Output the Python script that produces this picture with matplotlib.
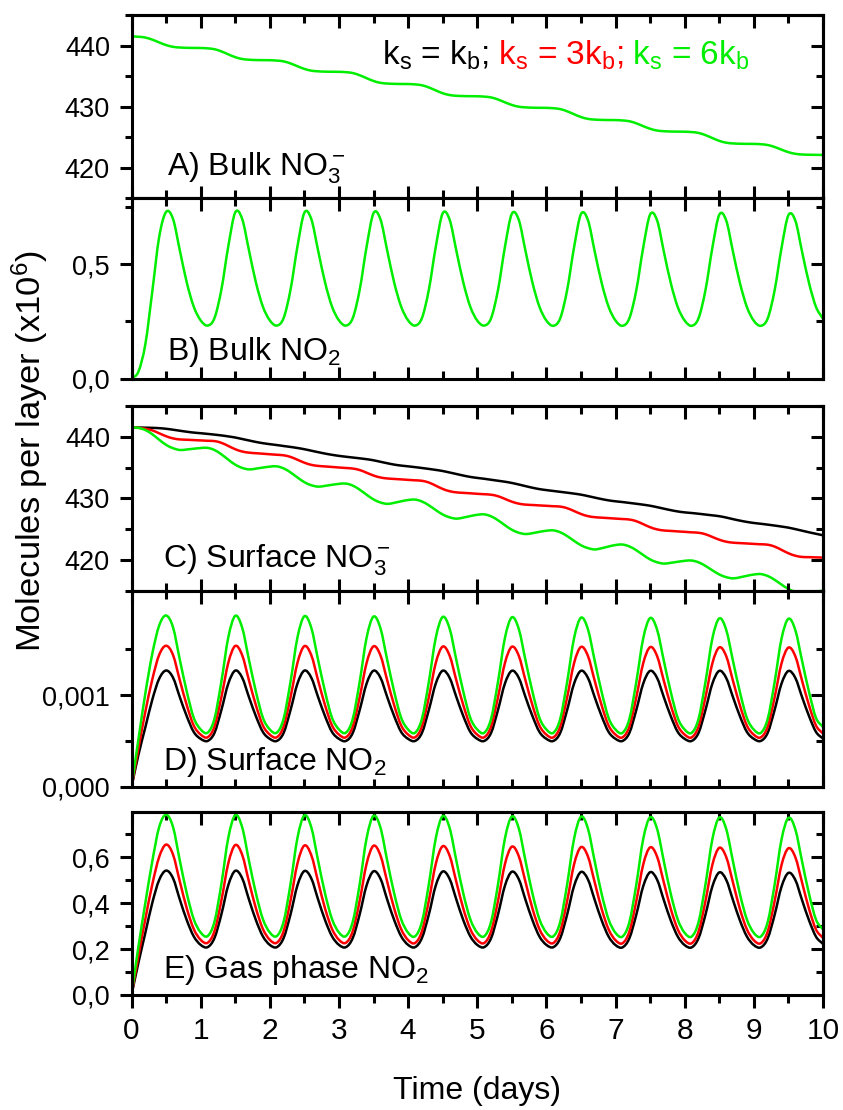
import numpy as np
import matplotlib
matplotlib.use('Agg')
import matplotlib.pyplot as plt
from matplotlib.ticker import FixedLocator, FixedFormatter
from matplotlib.path import Path
from matplotlib.patches import PathPatch

plt.rcParams['font.family'] = ['Liberation Sans', 'DejaVu Sans']
plt.rcParams['mathtext.fontset'] = 'custom'
plt.rcParams['mathtext.rm'] = 'Liberation Sans'
plt.rcParams['mathtext.it'] = 'Liberation Sans:italic'
plt.rcParams['mathtext.bf'] = 'Liberation Sans:bold'

time_days = np.round(np.arange(101) * 0.1, 1)

# A) Bulk NO3-  (k_s = 6k_b, green)
bulk_no3_green = [
    441.5, 441.44, 441.31, 440.97, 440.51, 440.08, 439.79, 439.68, 439.63, 439.61,
    439.6, 439.54, 439.4, 439.04, 438.56, 438.1, 437.8, 437.68, 437.63, 437.61,
    437.6, 437.54, 437.41, 437.07, 436.61, 436.18, 435.89, 435.78, 435.73, 435.71,
    435.7, 435.64, 435.5, 435.14, 434.66, 434.2, 433.9, 433.78, 433.73, 433.71,
    433.7, 433.64, 433.5, 433.14, 432.66, 432.2, 431.9, 431.78, 431.73, 431.71,
    431.7, 431.64, 431.51, 431.17, 430.71, 430.28, 429.99, 429.88, 429.83, 429.81,
    429.8, 429.74, 429.6, 429.24, 428.76, 428.3, 428.0, 427.88, 427.83, 427.81,
    427.8, 427.74, 427.61, 427.27, 426.81, 426.38, 426.09, 425.98, 425.93, 425.91,
    425.9, 425.84, 425.7, 425.34, 424.86, 424.4, 424.1, 423.98, 423.93, 423.91,
    423.9, 423.85, 423.72, 423.4, 422.96, 422.55, 422.28, 422.17, 422.13, 422.11,
    422.1]

# B) Bulk NO2 (green)
bulk_no2_green = [
    0.000, 0.030, 0.150, 0.380, 0.620, 0.730, 0.700, 0.560, 0.420, 0.315,
    0.255, 0.232, 0.265, 0.390, 0.580, 0.728, 0.700, 0.560, 0.420, 0.315,
    0.255, 0.232, 0.265, 0.390, 0.579, 0.727, 0.699, 0.559, 0.420, 0.315,
    0.255, 0.232, 0.265, 0.389, 0.578, 0.725, 0.698, 0.558, 0.419, 0.315,
    0.255, 0.232, 0.265, 0.389, 0.577, 0.724, 0.697, 0.557, 0.419, 0.314,
    0.254, 0.232, 0.264, 0.388, 0.576, 0.722, 0.696, 0.556, 0.418, 0.314,
    0.254, 0.231, 0.264, 0.388, 0.575, 0.721, 0.695, 0.555, 0.418, 0.314,
    0.254, 0.231, 0.264, 0.387, 0.574, 0.719, 0.694, 0.554, 0.417, 0.313,
    0.254, 0.231, 0.264, 0.387, 0.573, 0.718, 0.693, 0.553, 0.417, 0.313,
    0.253, 0.231, 0.263, 0.386, 0.572, 0.716, 0.692, 0.552, 0.416, 0.313,
    0.262]

# C) Surface NO3-
surf_no3_black = [
    441.5, 441.5, 441.48, 441.45, 441.4, 441.3, 441.15, 440.98, 440.82, 440.68,
    440.58, 440.47, 440.35, 440.22, 440.06, 439.88, 439.64, 439.4, 439.16, 438.96,
    438.8, 438.66, 438.5, 438.35, 438.18, 437.98, 437.74, 437.5, 437.27, 437.07,
    436.9, 436.76, 436.63, 436.5, 436.36, 436.18, 435.94, 435.7, 435.48, 435.32,
    435.2, 435.07, 434.93, 434.78, 434.62, 434.44, 434.2, 433.95, 433.7, 433.48,
    433.32, 433.18, 433.02, 432.86, 432.7, 432.5, 432.25, 431.98, 431.72, 431.5,
    431.34, 431.2, 431.06, 430.92, 430.77, 430.6, 430.37, 430.12, 429.88, 429.67,
    429.52, 429.4, 429.26, 429.12, 428.97, 428.8, 428.57, 428.32, 428.08, 427.87,
    427.72, 427.62, 427.5, 427.37, 427.24, 427.1, 426.88, 426.62, 426.38, 426.17,
    426.0, 425.87, 425.73, 425.58, 425.42, 425.24, 425.0, 424.74, 424.48, 424.24,
    424.0]
surf_no3_red = [
    441.5, 441.45, 441.3, 441.04, 440.57, 440.09, 439.74, 439.57, 439.52, 439.46,
    439.41, 439.35, 439.30, 439.02, 438.51, 437.98, 437.61, 437.42, 437.33, 437.25,
    437.16, 437.08, 436.99, 436.73, 436.27, 435.79, 435.44, 435.27, 435.18, 435.1,
    435.01, 434.93, 434.84, 434.6, 434.16, 433.71, 433.39, 433.23, 433.15, 433.08,
    433.0, 432.93, 432.85, 432.57, 432.06, 431.53, 431.16, 430.97, 430.89, 430.82,
    430.74, 430.67, 430.59, 430.35, 429.91, 429.46, 429.14, 428.98, 428.92, 428.85,
    428.79, 428.72, 428.66, 428.4, 427.94, 427.46, 427.11, 426.94, 426.86, 426.79,
    426.71, 426.64, 426.56, 426.29, 425.81, 425.31, 424.96, 424.78, 424.71, 424.63,
    424.56, 424.48, 424.41, 424.17, 423.73, 423.28, 422.96, 422.8, 422.73, 422.67,
    422.6, 422.54, 422.47, 422.17, 421.63, 421.08, 420.68, 420.48, 420.45, 420.41,
    420.38]
surf_no3_green = [
    441.5, 441.45, 441.09, 440.42, 439.52, 438.69, 438.15, 437.85, 437.94, 438.06,
    438.17, 438.2, 437.85, 437.15, 436.28, 435.47, 434.95, 434.7, 434.83, 435.0,
    435.15, 435.2, 434.87, 434.21, 433.39, 432.63, 432.13, 431.9, 432.03, 432.2,
    432.35, 432.4, 432.07, 431.41, 430.59, 429.83, 429.33, 429.1, 429.28, 429.52,
    429.73, 429.8, 429.49, 428.87, 428.1, 427.38, 426.92, 426.7, 426.88, 427.12,
    427.33, 427.4, 427.08, 426.44, 425.64, 424.9, 424.42, 424.2, 424.35, 424.56,
    424.74, 424.8, 424.49, 423.87, 423.1, 422.38, 421.92, 421.7, 421.9, 422.18,
    422.42, 422.5, 422.19, 421.57, 420.8, 420.08, 419.62, 419.4, 419.53, 419.7,
    419.85, 419.9, 419.61, 419.03, 418.31, 417.64, 417.2, 417.0, 417.18, 417.42,
    417.63, 417.7, 417.39, 416.77, 416.0, 415.28, 414.82, 414.6, 414.7, 414.85,
    415.0]

# D) Surface NO2 (values in units of 1e-3)
D_UNIT = 1e-3
surf_no2_black = [
    0.000, 0.350, 0.650, 0.950, 1.180, 1.270, 1.193, 0.977, 0.770, 0.600,
    0.525, 0.502, 0.590, 0.840, 1.128, 1.269, 1.193, 0.977, 0.770, 0.600,
    0.525, 0.502, 0.590, 0.840, 1.128, 1.269, 1.192, 0.977, 0.770, 0.600,
    0.525, 0.502, 0.590, 0.840, 1.128, 1.268, 1.192, 0.977, 0.770, 0.600,
    0.525, 0.502, 0.590, 0.840, 1.128, 1.268, 1.191, 0.977, 0.770, 0.600,
    0.525, 0.502, 0.590, 0.840, 1.128, 1.267, 1.191, 0.976, 0.770, 0.600,
    0.525, 0.502, 0.590, 0.840, 1.127, 1.267, 1.190, 0.976, 0.770, 0.600,
    0.525, 0.502, 0.590, 0.840, 1.127, 1.266, 1.190, 0.976, 0.769, 0.600,
    0.525, 0.502, 0.590, 0.839, 1.127, 1.266, 1.189, 0.976, 0.769, 0.600,
    0.525, 0.502, 0.590, 0.839, 1.127, 1.265, 1.189, 0.975, 0.769, 0.599,
    0.527]
surf_no2_red = [
    0.000, 0.420, 0.820, 1.170, 1.440, 1.540, 1.440, 1.160, 0.890, 0.670,
    0.572, 0.542, 0.660, 0.980, 1.355, 1.538, 1.438, 1.159, 0.889, 0.670,
    0.572, 0.542, 0.660, 0.980, 1.354, 1.536, 1.437, 1.158, 0.889, 0.670,
    0.572, 0.542, 0.660, 0.979, 1.353, 1.534, 1.435, 1.157, 0.888, 0.670,
    0.572, 0.542, 0.660, 0.979, 1.352, 1.531, 1.433, 1.156, 0.888, 0.669,
    0.571, 0.542, 0.659, 0.978, 1.351, 1.529, 1.432, 1.155, 0.887, 0.669,
    0.571, 0.541, 0.659, 0.978, 1.350, 1.527, 1.430, 1.154, 0.887, 0.669,
    0.571, 0.541, 0.659, 0.977, 1.349, 1.525, 1.429, 1.153, 0.886, 0.668,
    0.571, 0.541, 0.659, 0.977, 1.348, 1.522, 1.427, 1.152, 0.886, 0.668,
    0.570, 0.541, 0.658, 0.976, 1.347, 1.520, 1.425, 1.151, 0.885, 0.668,
    0.582]
surf_no2_green = [
    0.000, 0.520, 1.020, 1.450, 1.760, 1.870, 1.742, 1.384, 1.038, 0.755,
    0.628, 0.592, 0.745, 1.150, 1.632, 1.866, 1.738, 1.382, 1.037, 0.755,
    0.628, 0.592, 0.745, 1.149, 1.630, 1.862, 1.735, 1.380, 1.036, 0.754,
    0.628, 0.592, 0.744, 1.148, 1.628, 1.858, 1.731, 1.378, 1.035, 0.754,
    0.627, 0.591, 0.744, 1.147, 1.626, 1.854, 1.728, 1.376, 1.034, 0.753,
    0.627, 0.591, 0.743, 1.146, 1.624, 1.850, 1.724, 1.374, 1.033, 0.753,
    0.627, 0.591, 0.743, 1.145, 1.622, 1.846, 1.721, 1.372, 1.032, 0.752,
    0.626, 0.590, 0.742, 1.144, 1.620, 1.842, 1.717, 1.370, 1.031, 0.752,
    0.626, 0.590, 0.742, 1.143, 1.618, 1.838, 1.714, 1.368, 1.030, 0.751,
    0.626, 0.590, 0.741, 1.142, 1.616, 1.834, 1.710, 1.366, 1.029, 0.751,
    0.655]

# E) Gas phase NO2
gas_no2_black = [
    0.000, 0.140, 0.270, 0.400, 0.500, 0.541, 0.508, 0.414, 0.325, 0.255,
    0.218, 0.208, 0.248, 0.351, 0.478, 0.540, 0.508, 0.414, 0.325, 0.255,
    0.218, 0.208, 0.248, 0.351, 0.477, 0.539, 0.507, 0.414, 0.325, 0.255,
    0.218, 0.208, 0.248, 0.351, 0.477, 0.538, 0.506, 0.413, 0.325, 0.255,
    0.218, 0.208, 0.248, 0.350, 0.476, 0.537, 0.505, 0.413, 0.324, 0.255,
    0.218, 0.208, 0.247, 0.350, 0.475, 0.536, 0.504, 0.412, 0.324, 0.254,
    0.218, 0.208, 0.247, 0.350, 0.474, 0.535, 0.503, 0.412, 0.324, 0.254,
    0.217, 0.207, 0.247, 0.349, 0.473, 0.534, 0.502, 0.411, 0.323, 0.254,
    0.217, 0.207, 0.247, 0.349, 0.472, 0.533, 0.501, 0.411, 0.323, 0.254,
    0.217, 0.207, 0.246, 0.348, 0.471, 0.531, 0.500, 0.410, 0.323, 0.253,
    0.222]
gas_no2_red = [
    0.000, 0.170, 0.330, 0.480, 0.600, 0.654, 0.611, 0.492, 0.376, 0.287,
    0.240, 0.227, 0.278, 0.411, 0.573, 0.652, 0.610, 0.491, 0.376, 0.287,
    0.240, 0.227, 0.278, 0.411, 0.572, 0.650, 0.608, 0.491, 0.375, 0.287,
    0.240, 0.227, 0.278, 0.410, 0.571, 0.649, 0.607, 0.490, 0.375, 0.286,
    0.239, 0.226, 0.277, 0.410, 0.570, 0.647, 0.606, 0.489, 0.374, 0.286,
    0.239, 0.226, 0.277, 0.409, 0.569, 0.645, 0.604, 0.489, 0.374, 0.286,
    0.239, 0.226, 0.277, 0.409, 0.568, 0.643, 0.603, 0.488, 0.373, 0.285,
    0.238, 0.225, 0.276, 0.408, 0.567, 0.642, 0.602, 0.487, 0.373, 0.285,
    0.238, 0.225, 0.276, 0.408, 0.566, 0.640, 0.600, 0.487, 0.372, 0.285,
    0.238, 0.225, 0.276, 0.407, 0.565, 0.638, 0.599, 0.486, 0.372, 0.284,
    0.248]
gas_no2_green = [
    0.000, 0.210, 0.400, 0.580, 0.730, 0.784, 0.731, 0.583, 0.441, 0.330,
    0.272, 0.256, 0.319, 0.483, 0.684, 0.782, 0.730, 0.582, 0.441, 0.330,
    0.272, 0.256, 0.319, 0.483, 0.683, 0.781, 0.729, 0.582, 0.440, 0.330,
    0.272, 0.256, 0.319, 0.482, 0.682, 0.779, 0.728, 0.581, 0.440, 0.329,
    0.271, 0.255, 0.318, 0.482, 0.681, 0.778, 0.727, 0.581, 0.439, 0.329,
    0.271, 0.255, 0.318, 0.481, 0.680, 0.776, 0.725, 0.580, 0.439, 0.329,
    0.271, 0.255, 0.318, 0.481, 0.679, 0.775, 0.724, 0.579, 0.438, 0.328,
    0.270, 0.254, 0.317, 0.480, 0.678, 0.773, 0.723, 0.579, 0.438, 0.328,
    0.270, 0.254, 0.317, 0.480, 0.677, 0.772, 0.722, 0.578, 0.437, 0.328,
    0.270, 0.254, 0.317, 0.479, 0.676, 0.770, 0.720, 0.577, 0.437, 0.327,
    0.285]

# tick definitions
x_major = list(range(0, 11))
x_minor = [0.5, 1.5, 2.5, 3.5, 4.5, 5.5, 6.5, 7.5, 8.5, 9.5]
x_labels = ['0', '1', '2', '3', '4', '5', '6', '7', '8', '9', '10']

no3_major = [420, 430, 440]
no3_minor = [415, 425, 435, 445]
no3_labels = ['420', '430', '440']
bulk_no2_major = [0.0, 0.5]
bulk_no2_minor = [0.25, 0.75]
bulk_no2_labels = ['0,0', '0,5']
surf_no2_major = [0.0, 0.001]
surf_no2_minor = [0.0005, 0.0015]
surf_no2_labels = ['0,000', '0,001']
gas_no2_major = [0.0, 0.2, 0.4, 0.6]
gas_no2_minor = [0.1, 0.3, 0.5, 0.7]
gas_no2_labels = ['0,0', '0,2', '0,4', '0,6']

BLACK = '#000000'
RED = '#ff0000'
GREEN = '#00ee00'
LW = 1.8


def smooth_line(ax, x, y, color):
    """Draw a smooth (spline-connected) line through the data points."""
    x = np.asarray(x, float)
    y = np.asarray(y, float)
    xp = np.concatenate([[2 * x[0] - x[1]], x, [2 * x[-1] - x[-2]]])
    yp = np.concatenate([[2 * y[0] - y[1]], y, [2 * y[-1] - y[-2]]])
    verts = [(x[0], y[0])]
    codes = [Path.MOVETO]
    for i in range(len(x) - 1):
        p0 = np.array([xp[i], yp[i]])
        p1 = np.array([xp[i + 1], yp[i + 1]])
        p2 = np.array([xp[i + 2], yp[i + 2]])
        p3 = np.array([xp[i + 3], yp[i + 3]])
        c1 = p1 + (p2 - p0) / 6.0
        c2 = p2 - (p3 - p1) / 6.0
        verts += [tuple(c1), tuple(c2), tuple(p2)]
        codes += [Path.CURVE4] * 3
    patch = PathPatch(Path(verts, codes), fill=False, edgecolor=color, lw=LW,
                      capstyle='round', joinstyle='round', transform=ax.transData)
    ax.add_patch(patch)


# ---------------- figure ----------------
fig = plt.figure(figsize=(8.43, 11.10), dpi=100)
L = 131.5 / 843
W = (823 - 131.5) / 843
H = 1110.0


def make_ax(top_px, bot_px):
    return fig.add_axes([L, 1 - bot_px / H, W, (bot_px - top_px) / H])


axA = make_ax(15, 198.3)
axB = make_ax(198.3, 378.5)
axC = make_ax(406, 590.7)
axD = make_ax(590.7, 787)
axE = make_ax(811.7, 995)

SPW = 2.2


def style(ax, ymaj, ymin, ylab, ylim, last=False):
    ax.set_xlim(0, 10)
    ax.set_ylim(*ylim)
    for s in ax.spines.values():
        s.set_linewidth(SPW)
    ax.xaxis.set_major_locator(FixedLocator(x_major))
    ax.xaxis.set_minor_locator(FixedLocator(x_minor))
    ax.yaxis.set_major_locator(FixedLocator(ymaj))
    ax.yaxis.set_minor_locator(FixedLocator(ymin))
    ax.yaxis.set_major_formatter(FixedFormatter(ylab))
    ax.tick_params(axis='y', which='major', direction='out', length=8.5, width=SPW,
                   labelsize=19.5, pad=7, left=True, right=False)
    ax.tick_params(axis='y', which='minor', direction='out', length=5, width=SPW,
                   left=True, right=False)
    if last:
        ax.xaxis.set_major_formatter(FixedFormatter(x_labels))
        ax.tick_params(axis='x', which='major', direction='out', length=9.5, width=SPW,
                       labelsize=21.5, pad=6, bottom=True, top=False)
        ax.tick_params(axis='x', which='minor', direction='out', length=5.5, width=SPW,
                       bottom=True, top=False)
    else:
        ax.tick_params(axis='x', which='major', direction='in', length=9, width=SPW,
                       labelbottom=False, bottom=True, top=False)
        ax.tick_params(axis='x', which='minor', direction='in', length=5.5, width=SPW,
                       bottom=True, top=False)
    # inward ticks on top and right
    sx = ax.secondary_xaxis('top')
    sx.xaxis.set_major_locator(FixedLocator(x_major))
    sx.xaxis.set_minor_locator(FixedLocator(x_minor))
    sx.tick_params(axis='x', which='major', direction='in', length=9, width=SPW, labeltop=False)
    sx.tick_params(axis='x', which='minor', direction='in', length=5.5, width=SPW)
    sx.spines['top'].set_linewidth(SPW)
    sy = ax.secondary_yaxis('right')
    sy.yaxis.set_major_locator(FixedLocator(ymaj))
    sy.yaxis.set_minor_locator(FixedLocator(ymin))
    sy.tick_params(axis='y', which='major', direction='in', length=8.5, width=SPW, labelright=False)
    sy.tick_params(axis='y', which='minor', direction='in', length=5, width=SPW)
    sy.spines['right'].set_linewidth(SPW)


# A
style(axA, no3_major, no3_minor, no3_labels, (415, 445))
smooth_line(axA, time_days, bulk_no3_green, GREEN)
# B
style(axB, bulk_no2_major, bulk_no2_minor, bulk_no2_labels, (0, 0.79))
smooth_line(axB, time_days, bulk_no2_green, GREEN)
# C
style(axC, no3_major, no3_minor, no3_labels, (415, 445))
smooth_line(axC, time_days, surf_no3_black, BLACK)
smooth_line(axC, time_days, surf_no3_red, RED)
smooth_line(axC, time_days, surf_no3_green, GREEN)
# D
style(axD, surf_no2_major, surf_no2_minor, surf_no2_labels, (0, 0.00214))
smooth_line(axD, time_days, np.array(surf_no2_black) * D_UNIT, BLACK)
smooth_line(axD, time_days, np.array(surf_no2_red) * D_UNIT, RED)
smooth_line(axD, time_days, np.array(surf_no2_green) * D_UNIT, GREEN)
# E
style(axE, gas_no2_major, gas_no2_minor, gas_no2_labels, (0, 0.797), last=True)
smooth_line(axE, time_days, gas_no2_black, BLACK)
smooth_line(axE, time_days, gas_no2_red, RED)
smooth_line(axE, time_days, gas_no2_green, GREEN)

# panel labels
PFS = 23
axA.text(0.051, 0.127, r'A) Bulk NO$\mathregular{_3^-}$', transform=axA.transAxes,
         fontsize=PFS, va='baseline')
axB.text(0.051, 0.103, r'B) Bulk NO$\mathregular{_2}$', transform=axB.transAxes,
         fontsize=PFS, va='baseline')
axC.text(0.046, 0.123, r'C) Surface NO$\mathregular{_3^-}$', transform=axC.transAxes,
         fontsize=PFS, va='baseline')
axD.text(0.046, 0.087, r'D) Surface NO$\mathregular{_2}$', transform=axD.transAxes,
         fontsize=PFS, va='baseline')
axE.text(0.046, 0.093, r'E) Gas phase NO$\mathregular{_2}$', transform=axE.transAxes,
         fontsize=PFS, va='baseline')

# legend-like coloured text in panel A
LFS = 24
t1 = axA.text(0.362, 0.727, r'k$\mathregular{_s}$ = k$\mathregular{_b}$;',
              transform=axA.transAxes, fontsize=LFS, color=BLACK, va='baseline')
t2 = axA.annotate(r' k$\mathregular{_s}$ = 3k$\mathregular{_b}$;', xy=(1, 0), xycoords=t1,
                  fontsize=LFS, color=RED, va='bottom', ha='left')
t3 = axA.annotate(r' k$\mathregular{_s}$ = 6k$\mathregular{_b}$', xy=(1, 0), xycoords=t2,
                  fontsize=LFS, color=GREEN, va='bottom', ha='left')

# axis titles
fig.text(0.036, 0.594, r'Molecules per layer (x10$\mathregular{^6}$)', rotation=90,
         fontsize=24.8, ha='center', va='center')
fig.text((131.5 + 823) / 2 / 843, 0.0095, 'Time (days)', fontsize=23, ha='center',
         va='baseline')

fig.savefig('out.png', dpi=100, facecolor='white')
